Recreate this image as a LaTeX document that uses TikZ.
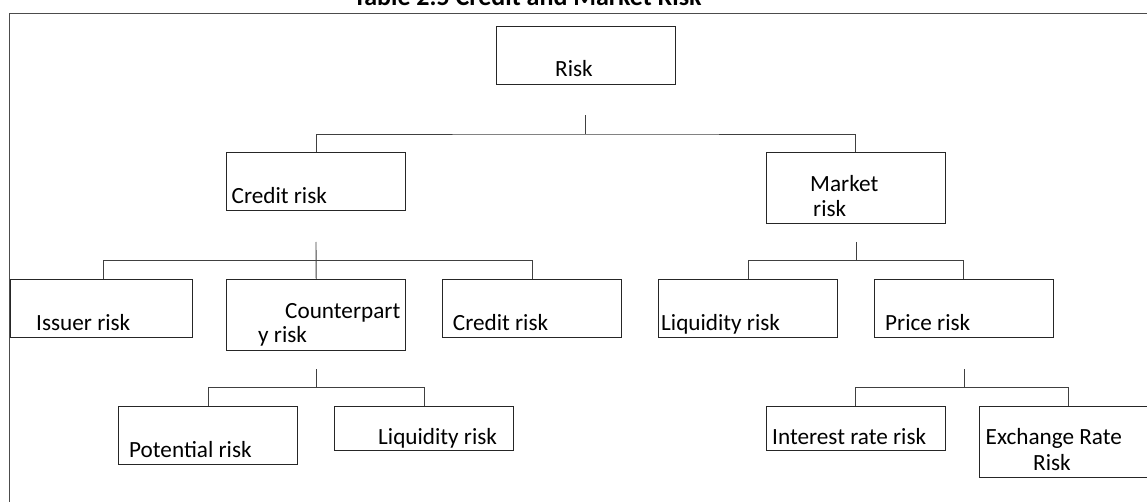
\documentclass[tikz,border=0pt]{standalone}
\usepackage{fontspec}
\setmainfont{Carlito}
\begin{document}
\begin{tikzpicture}[x=1pt,y=-1pt,
  box/.style={draw=black!85, line width=0.9pt, rectangle, inner sep=0pt, minimum width=179pt, minimum height=58pt},
  lbl/.style={anchor=base west, inner sep=0pt, font=\fontsize{23.2}{27}\selectfont},
  conn/.style={draw=black!75, line width=0.9pt}]
\useasboundingbox (0,0) rectangle (1147,502);
\clip (0,0) rectangle (1147,502);
\fill[white] (0,0) rectangle (1147,502);
% frame
\draw[black!70, line width=1.1pt] (9.5,520) -- (9.5,13.5) -- (1170,13.5);
% title
\node[anchor=base, inner sep=0pt, font=\fontsize{26}{30}\selectfont\bfseries] (title) at (527.5,5.5) {Table 2.5 Credit and Market Risk};
% boxes
\node[box, minimum width=179.3pt] (risk) at (586,55) {};
\node[box] (credit) at (316.2,181.7) {};
\node[box, minimum height=70.6pt] (market) at (855.5,188) {};
\node[box, minimum width=182pt] (issuer) at (101.5,308.3) {};
\node[box, minimum height=70.7pt] (counter) at (316.2,314.7) {};
\node[box, minimum width=178.4pt] (credittwo) at (532,308.3) {};
\node[box] (liq) at (748,308.3) {};
\node[box] (price) at (963.9,308.3) {};
\node[box, minimum height=58.3pt] (potential) at (208,435.2) {};
\node[box, minimum height=44.7pt] (liqtwo) at (424.3,428.4) {};
\node[box, minimum height=44.7pt] (interest) at (855.8,428.4) {};
\node[box, minimum height=71.3pt] (exchange) at (1068.7,441.7) {};
% labels
\node[lbl] (trisk) at (555,77) {Risk};
\node[lbl] (tcredit) at (231.5,204) {Credit risk};
\node[lbl] (tmarketa) at (810,192) {Market};
\node[lbl] (tmarketb) at (813,217) {risk};
\node[lbl] (tissuer) at (36,330.7) {Issuer risk};
\node[lbl] (tcountera) at (285,318) {Counterpart};
\node[lbl] (tcounterb) at (258,342) {y risk};
\node[lbl] (tcredittwo) at (452.7,330.7) {Credit risk};
\node[lbl] (tliq) at (661,330) {Liquidity risk};
\node[lbl] (tprice) at (885,330) {Price risk};
\node[lbl] (tpotential) at (129,457.3) {Potential risk};
\node[lbl] (tliqtwo) at (378,444) {Liquidity risk};
\node[lbl] (tinterest) at (772,444) {Interest rate risk};
\node[lbl] (texchangea) at (985.5,444.3) {Exchange Rate};
\node[lbl] (texchangeb) at (1033,470.7) {Risk};
% connector coordinates
\coordinate (s1) at (585.7,115.5);
\coordinate (f1) at (585.7,134);
\coordinate (s2) at (316,242);
\coordinate (f2) at (316,260.7);
\coordinate (s3) at (856.5,242);
\coordinate (f3) at (856.5,260.7);
\coordinate (s4) at (316,369.3);
\coordinate (f4) at (316,387.3);
\coordinate (s5) at (964.3,369.3);
\coordinate (f5) at (964.3,387.3);
% level 1
\draw[conn] (s1) -- (f1);
\draw[conn] (credit.north) |- (f1) -| (market.north);
% credit children
\draw[conn] (s2) -- (counter.north);
\draw[conn] (issuer.north -| 103.3,0) |- (f2) -| (credittwo.north);
% market children
\draw[conn] (s3) -- (f3);
\draw[conn] (liq.north) |- (f3) -| (price.north);
% counterparty children
\draw[conn] (s4) -- (f4);
\draw[conn] (potential.north) |- (f4) -| (liqtwo.north);
% price children
\draw[conn] (s5) -- (f5);
\draw[conn] (interest.north) |- (f5) -| (exchange.north);
\end{tikzpicture}
\end{document}
